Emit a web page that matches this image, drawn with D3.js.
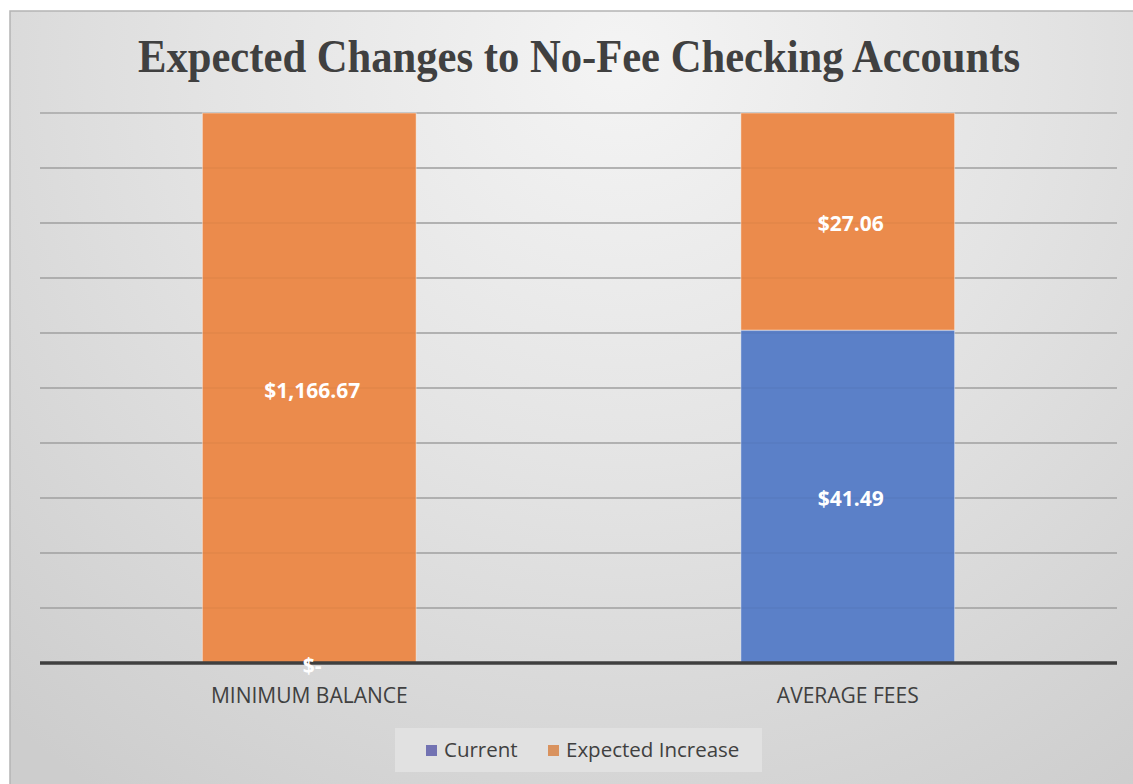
<!DOCTYPE html>
<html>
<head>
<meta charset="utf-8">
<script src="https://cdn.jsdelivr.net/npm/d3@7"></script>
<style>
  body { margin: 0; background: #fff; }
  svg { display: block; }
</style>
</head>
<body>
<script>
// chart data
var categories = ["MINIMUM BALANCE", "AVERAGE FEES"];
var seriesNames = ["Current", "Expected Increase"];
var current = [0, 41.49];
var expectedIncrease = [1166.67, 27.06];
var gridTicks = [0, 0.1, 0.2, 0.3, 0.4, 0.5, 0.6, 0.7, 0.8, 0.9, 1];

var colors = ["#5b80c8", "#eb8b4c"];
var legendColors = ["#7272b2", "#d9925e"];

var W = 1133, H = 784;
var margin = {top: 113, right: 16, bottom: 121, left: 40};
var width = W - margin.left - margin.right,
    height = H - margin.top - margin.bottom;

var svg = d3.select("body").append("svg")
  .attr("width", W)
  .attr("height", H);

// background panel with a soft gradient
var defs = svg.append("defs");
var grad = defs.append("radialGradient")
  .attr("id", "bg")
  .attr("gradientUnits", "userSpaceOnUse")
  .attr("cx", 620).attr("cy", 60).attr("r", 900);
grad.append("stop").attr("offset", "0%").attr("stop-color", "#f4f4f4");
grad.append("stop").attr("offset", "45%").attr("stop-color", "#e4e4e4");
grad.append("stop").attr("offset", "100%").attr("stop-color", "#cdcdcd");

svg.append("rect")
  .attr("x", 10).attr("y", 11)
  .attr("width", W + 20).attr("height", H + 20)
  .attr("fill", "url(#bg)")
  .attr("stroke", "#b4b4b4")
  .attr("stroke-width", 1.5);

// title
svg.append("text")
  .attr("x", 579).attr("y", 72)
  .attr("text-anchor", "middle")
  .attr("font-family", "'Liberation Serif', 'Times New Roman', serif")
  .attr("font-weight", "bold")
  .attr("font-size", 47)
  .attr("fill", "#404040")
  .attr("textLength", 882)
  .attr("lengthAdjust", "spacingAndGlyphs")
  .text("Expected Changes to No-Fee Checking Accounts");

var g = svg.append("g")
  .attr("transform", "translate(" + margin.left + "," + margin.top + ")");

var rows = categories.map(function (c, i) {
  return {cat: c, "Current": current[i], "Expected Increase": expectedIncrease[i]};
});

var stack = d3.stack()
  .keys(seriesNames)
  .offset(d3.stackOffsetExpand);
var stacked = stack(rows);

var x = d3.scaleBand()
  .domain(categories)
  .range([0, width])
  .paddingInner(0.603)
  .paddingOuter(0.3015);

var y = d3.scaleLinear()
  .domain([0, 1])
  .range([height, 0]);

// gridlines
g.append("g")
  .selectAll("line")
  .data(gridTicks.slice(1))
  .enter()
  .append("line")
    .attr("x1", 0).attr("x2", width)
    .attr("y1", function (d) { return y(d); })
    .attr("y2", function (d) { return y(d); })
    .attr("stroke", "#a6a6a6")
    .attr("stroke-width", 1.5);

// bars
var layers = g.selectAll(".layer")
  .data(stacked)
  .enter()
  .append("g")
    .attr("class", "layer")
    .attr("fill", function (d, i) { return colors[i]; });

layers.selectAll("rect")
  .data(function (d) { return d; })
  .enter()
  .append("rect")
    .attr("x", function (d) { return x(d.data.cat); })
    .attr("width", x.bandwidth())
    .attr("y", function (d) { return y(d[1]); })
    .attr("height", function (d) { return y(d[0]) - y(d[1]); })
    .attr("stroke", "rgba(255,255,255,0.45)")
    .attr("stroke-width", 1);

// faint gridlines visible through bars
g.append("g")
  .selectAll("line")
  .data(gridTicks.slice(1, -1))
  .enter()
  .append("line")
    .attr("x1", 0).attr("x2", width)
    .attr("y1", function (d) { return y(d); })
    .attr("y2", function (d) { return y(d); })
    .attr("stroke", "#000")
    .attr("stroke-opacity", 0.04)
    .attr("stroke-width", 1.5);

// baseline axis
g.append("line")
  .attr("x1", 0).attr("x2", width)
  .attr("y1", y(0)).attr("y2", y(0))
  .attr("stroke", "#3f3f3f")
  .attr("stroke-width", 3.5);

// data labels (drawn after the axis so "$-" sits on top of it)
var fmt = d3.format("$,.2f");
var labelData = [];
stacked.forEach(function (s) {
  s.forEach(function (v) { labelData.push({v: v, key: s.key}); });
});
g.append("g")
  .selectAll("text")
  .data(labelData)
  .enter()
  .append("text")
    .attr("x", function (d) { return x(d.v.data.cat) + x.bandwidth() / 2 + 3; })
    .attr("y", function (d) { return (y(d.v[0]) + y(d.v[1])) / 2 + 2; })
    .attr("dy", "0.36em")
    .attr("text-anchor", "middle")
    .attr("font-family", "'Open Sans', sans-serif")
    .attr("font-weight", "bold")
    .attr("font-size", 21)
    .attr("fill", "#fff")
    .text(function (d) {
      var val = d.v.data[d.key];
      return val === 0 ? "$-" : fmt(val);
    });

// category axis labels
g.append("g")
  .attr("transform", "translate(0," + height + ")")
  .call(d3.axisBottom(x).tickSize(0).tickPadding(25))
  .call(function (a) { a.select(".domain").remove(); })
  .selectAll("text")
    .attr("font-family", "'Open Sans', sans-serif")
    .attr("font-size", 21)
    .attr("fill", "#404040");

// legend
var legend = svg.append("g").attr("transform", "translate(395,728)");
legend.append("rect")
  .attr("width", 367).attr("height", 44)
  .attr("fill", "#e4e4e4")
  .attr("fill-opacity", 0.8);

var legendX = [31, 153];
var items = legend.selectAll(".item")
  .data(seriesNames)
  .enter()
  .append("g")
    .attr("class", "item")
    .attr("transform", function (d, i) { return "translate(" + legendX[i] + ",0)"; });
items.append("rect")
  .attr("y", 17).attr("width", 11).attr("height", 11)
  .attr("fill", function (d, i) { return legendColors[i]; });
items.append("text")
  .attr("x", 18).attr("y", 22)
  .attr("dy", "0.36em")
  .attr("font-family", "'Open Sans', sans-serif")
  .attr("font-size", 20.5)
  .attr("fill", "#404040")
  .text(function (d) { return d; });
</script>
</body>
</html>
